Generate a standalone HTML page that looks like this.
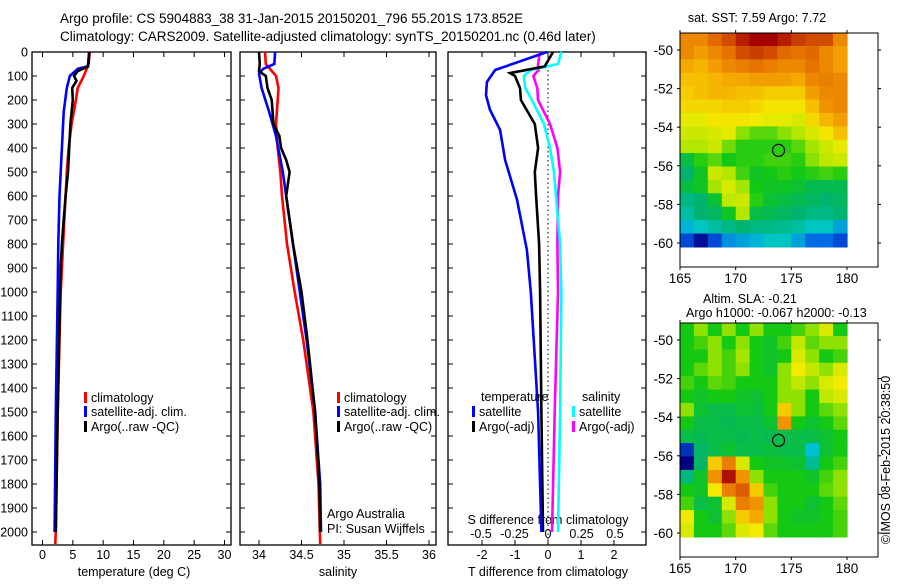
<!DOCTYPE html>
<html><head><meta charset="utf-8">
<style>
body{margin:0;background:#fff;width:900px;height:580px;overflow:hidden}
svg{font-family:"Liberation Sans",sans-serif;font-size:12.5px}
</style></head>
<body>
<svg id="c" width="900" height="580" viewBox="0 0 900 580">
<text x="60" y="23" font-size="13.5">Argo profile: CS 5904883_38 31-Jan-2015 20150201_796 55.201S 173.852E</text>
<text x="60" y="41" font-size="13.5">Climatology: CARS2009. Satellite-adjusted climatology: synTS_20150201.nc (0.46d later)</text>
</svg>
<script>
// ---------- data ----------
const depthTicks=[0,100,200,300,400,500,600,700,800,900,1000,1100,1200,1300,1400,1500,1600,1700,1800,1900,2000];
const tempTicks=[0,5,10,15,20,25,30];
const salTicks=[34,34.5,35,35.5,36];
const tdiffTicks=[-2,-1,0,1,2];
const sdiffTicks=[-0.5,-0.25,0,0.25,0.5];
const sdiffLabels=["-0.5","-0.25","0","0.25","0.5"];

const tClimDepth=[0,50,100,150,200,300,400,500,600,700,800,1000,1200,1500,2000,2050];
const tClimVal=[7.8,7.6,6.8,5.8,5.5,4.8,4.3,4.0,3.8,3.6,3.4,3.0,2.8,2.5,2.2,2.1];
const tSatDepth=[0,60,70,100,150,250,400,500,600,800,1000,1500,2000];
const tSatVal=[7.7,7.5,5.8,4.5,4.0,3.5,3.2,3.0,2.8,2.6,2.5,2.2,2.0];
const tArgoDepth=[0,60,80,100,120,150,200,300,400,500,600,700,800,900,1000,1500,2000];
const tArgoVal=[7.7,7.5,5.8,5.2,5.6,4.9,5.0,4.6,4.4,4.2,3.8,3.5,3.2,3.0,2.9,2.5,2.2];

const sClimDepth=[0,50,100,150,200,300,400,500,600,800,1000,1200,1500,1800,2050];
const sClimVal=[34.07,34.08,34.2,34.23,34.22,34.2,34.22,34.25,34.27,34.33,34.42,34.52,34.64,34.7,34.72];
const sSatDepth=[0,50,70,90,150,250,350,500,600,800,1000,1200,1500,1800,2000];
const sSatVal=[34.19,34.18,34.05,34.0,34.03,34.12,34.2,34.28,34.32,34.4,34.48,34.56,34.66,34.72,34.73];
const sArgoDepth=[0,50,80,100,150,200,300,350,400,450,500,550,600,700,800,1000,1200,1500,1800,2000];
const sArgoVal=[34.0,34.01,34.0,34.08,34.1,34.15,34.17,34.24,34.26,34.32,34.36,34.34,34.32,34.36,34.4,34.5,34.57,34.66,34.71,34.72];

const dTSatDepth=[0,75,125,180,240,325,450,615,825,1000,1500,2000];
const dTSatVal=[-0.03,-1.6,-1.85,-1.88,-1.76,-1.45,-1.3,-0.94,-0.64,-0.52,-0.3,-0.2];
const dTArgoDepth=[0,60,88,100,150,200,300,400,500,600,800,1000,1500,2000];
const dTArgoVal=[0.15,-0.1,-1.15,-1.0,-0.85,-0.82,-0.4,-0.3,-0.4,-0.36,-0.27,-0.24,-0.2,-0.15];
const dSSatDepth=[0,50,75,100,150,200,300,400,500,600,800,1000,1500,2000];
const dSSatVal=[0.1,0.075,-0.13,-0.18,-0.17,-0.12,-0.03,0.015,0.045,0.06,0.09,0.1,0.09,0.075];
const dSArgoDepth=[0,50,75,100,150,200,300,400,500,600,800,1000,1500,2000];
const dSArgoVal=[-0.06,-0.075,-0.07,-0.11,-0.08,-0.075,0.015,0.07,0.09,0.075,0.07,0.075,0.05,0.03];

const lonTicks=[165,170,175,180];
const latTicks=[-50,-52,-54,-56,-58,-60];
const sstGrid=[
[9,9,9.3,9.5,9.8,10,10,9.8,9.6,9.5,9.5,9],
[9,8.8,9,9.2,9.5,9.6,9.5,9.3,9.2,9.3,9,8.8],
[8.7,8.6,8.8,9,9.1,9.2,9.1,9,9,9.2,9,8.8],
[8.5,8.5,8.6,8.7,8.7,8.8,8.8,8.8,8.7,9,9.1,9],
[8.4,8.5,8.6,8.6,8.5,8.5,8.4,8.4,8.4,8.8,9,9],
[8.3,8.3,8.3,8.4,8.4,8.3,8.2,8.2,8.2,8.5,8.9,9],
[8.0,8.0,8.2,8.2,8.2,8.1,8.0,8.0,7.9,8.3,8.6,8.8],
[7.8,7.8,7.9,8.0,7.4,7.2,7.2,7.4,7.6,7.9,8.2,8.5],
[7.6,7.6,7.8,7.3,7.0,7.0,7.0,7.0,7.2,7.5,7.8,8.0],
[6.6,7.0,7.2,6.9,7.0,7.0,7.1,7.1,7.0,7.4,7.7,7.8],
[6.3,6.8,7.8,7.6,7.1,6.8,6.9,7.0,6.9,7.0,7.1,7.0],
[6.6,6.8,7.5,7.9,7.5,6.9,6.8,6.8,6.7,6.5,6.5,6.5],
[6.2,6.3,6.7,7.7,7.8,7.0,6.7,6.6,6.5,6.4,6.3,6.4],
[6.0,6.3,6.4,6.8,7.6,6.6,6.5,6.4,6.3,6.2,6.2,6.3],
[5.6,5.8,6.0,6.2,6.3,6.2,6.2,6.1,6.0,5.8,5.8,5.5],
[5.0,4.6,5.0,5.4,5.5,5.6,5.8,5.8,5.5,5.2,5.2,5.0]];
const slaGrid=[
[0,0.05,0,0.05,0,0.05,0,0,0.02,0.05,0.1,0],
[0,0.02,0.05,0,0.05,0,-0.02,0.02,0.08,0.03,0.05,0.05],
[0,0,0.05,0.02,0.06,0,-0.02,0,0.1,0.05,0,0.02],
[0,0.03,0.05,0.02,0.05,0,-0.02,0.05,0.12,0.08,0.05,0.1],
[0.02,0,0.03,0.02,0,0,0,0.05,0.08,0.05,0.1,0.12],
[0,-0.02,0,0,-0.02,-0.03,0,0.05,0.05,0,0.08,0.1],
[0.05,-0.03,-0.05,-0.05,-0.03,-0.04,0,0.15,0.05,0,0.03,0.05],
[0,-0.05,-0.05,-0.06,-0.05,-0.05,-0.03,0.2,0,-0.03,0,0.03],
[-0.05,-0.06,-0.05,-0.05,-0.06,-0.05,-0.06,-0.05,-0.05,-0.05,-0.03,0],
[-0.3,-0.08,-0.05,-0.03,-0.05,-0.05,-0.04,-0.05,-0.05,-0.18,-0.03,0],
[-0.35,-0.08,0.15,0.22,0.1,0,-0.02,-0.02,-0.03,-0.12,0,0.02],
[-0.1,-0.02,0.2,0.3,0.2,0.05,0,0,0,-0.02,0.02,0.05],
[0,-0.02,0.12,0.22,0.25,0.15,0.02,0,0,0,0.03,0.05],
[0.02,-0.05,-0.03,0.1,0.22,0.2,0.05,0,0,-0.03,0,0.03],
[0.12,0,-0.03,0.05,0.15,0.18,0.05,0,-0.02,-0.02,0,0.02],
[0.1,0,0,0.03,0.1,0.12,0.03,0,0,0,0,0.02]];
const argoLon=173.85, argoLat=-55.2;

// ---------- helpers ----------
const svg=document.getElementById('c');
const NS='http://www.w3.org/2000/svg';
function mk(tag,attrs){const e=document.createElementNS(NS,tag);for(const k in attrs)e.setAttribute(k,attrs[k]);svg.appendChild(e);return e;}
function lin(d0,d1,p0,p1){return v=>p0+(v-d0)*(p1-p0)/(d1-d0);}
const yD=lin(0,2000,52,532);
const PT=52,PB=545;
function stepPath(depths,vals,xf){
  let d='';
  for(let i=0;i<depths.length;i++){
    const x=xf(vals[i]).toFixed(1),y=yD(depths[i]).toFixed(1);
    d+=(i?'L':'M')+x+','+y;
  }
  return d;
}
function frame(x0,x1,name){
  const r=mk('rect',{x:x0,y:PT,width:x1-x0,height:PB-PT,fill:'none',stroke:'#000','stroke-width':1.3});
  
  
  depthTicks.forEach(d=>{
    const t1=mk('line',{x1:x0,x2:x0+5,y1:yD(d),y2:yD(d),stroke:'#000'});
    
    
    const t2=mk('line',{x1:x1-5,x2:x1,y1:yD(d),y2:yD(d),stroke:'#000'});
    
    
  });
}
function xticks(vals,labels,xf,name,labelY){
  vals.forEach((v,i)=>{
    const a=mk('line',{x1:xf(v),x2:xf(v),y1:PT,y2:PT+5,stroke:'#000'});
    
    
    const b=mk('line',{x1:xf(v),x2:xf(v),y1:PB-5,y2:PB,stroke:'#000'});
    
    
    const t=mk('text',{x:xf(v),y:labelY,'text-anchor':'middle'});
    t.textContent=labels[i];
    
    
  });
}
function line(depths,vals,xf,color,name){
  const p=mk('path',{d:stepPath(depths,vals,xf),fill:'none',stroke:color,'stroke-width':2.6,'stroke-linejoin':'miter'});
  
  
}
function txt(x,y,s,name,extra){
  const t=mk('text',Object.assign({x:x,y:y},extra||{}));
  t.textContent=s;
  
  
  return t;
}
function legendEntry(x,y,color,label,name){
  const b=mk('rect',{x:x,y:y-10,width:3,height:11,fill:color});
  
  
  txt(x+7,y,label,name);
}

// ---------- panel 1: temperature ----------
const xT=lin(0,30,42.5,224.5);
frame(32,231,'temperature-panel');
depthTicks.forEach(d=>txt(28,yD(d)+4.5,String(d),'depth-tick-label',{'text-anchor':'end'}));
xticks(tempTicks,tempTicks.map(String),xT,'temperature-x',559);
txt(134,576,'temperature (deg C)','temperature-axis-title',{'text-anchor':'middle'});
line(tClimDepth,tClimVal,xT,'#f00','temperature-climatology-line');
line(tSatDepth,tSatVal,xT,'#00f','temperature-satellite-line');
line(tArgoDepth,tArgoVal,xT,'#000','temperature-argo-line');
legendEntry(84,402,'#f00','climatology','legend-climatology');
legendEntry(84,416,'#00f','satellite-adj. clim.','legend-satellite');
legendEntry(84,431,'#000','Argo(..raw -QC)','legend-argo');

// ---------- panel 2: salinity ----------
const xS=lin(34,36,259,429);
frame(240,436,'salinity-panel');
xticks(salTicks,salTicks.map(String),xS,'salinity-x',559);
txt(338,576,'salinity','salinity-axis-title',{'text-anchor':'middle'});
line(sClimDepth,sClimVal,xS,'#f00','salinity-climatology-line');
line(sSatDepth,sSatVal,xS,'#00f','salinity-satellite-line');
line(sArgoDepth,sArgoVal,xS,'#000','salinity-argo-line');
legendEntry(337,402,'#f00','climatology','legend-climatology-2');
legendEntry(337,416,'#00f','satellite-adj. clim.','legend-satellite-2');
legendEntry(337,431,'#000','Argo(..raw -QC)','legend-argo-2');
txt(327,518,'Argo Australia','credit-argo-australia');
txt(327,533,'PI: Susan Wijffels','credit-pi');

// ---------- panel 3: differences ----------
const xdT=lin(0,1,548,581);
const xdS=lin(0,0.5,548,615);
frame(448,646,'difference-panel');
xticks(tdiffTicks,tdiffTicks.map(String),xdT,'tdiff-x',559);
sdiffTicks.forEach((v,i)=>txt(xdS(v),538,sdiffLabels[i],'sdiff-tick-label',{'text-anchor':'middle'}));
txt(548,524,'S difference from climatology','sdiff-axis-title',{'text-anchor':'middle'});
txt(548,576,'T difference from climatology','tdiff-axis-title',{'text-anchor':'middle'});
const zl=mk('line',{x1:548,x2:548,y1:PT,y2:PB,stroke:'#000','stroke-dasharray':'1.5,3'});


line(dSArgoDepth,dSArgoVal,xdS,'#f0f','sdiff-argo-line');
line(dSSatDepth,dSSatVal,xdS,'#0ff','sdiff-satellite-line');
line(dTArgoDepth,dTArgoVal,xdT,'#000','tdiff-argo-line');
line(dTSatDepth,dTSatVal,xdT,'#00f','tdiff-satellite-line');
txt(481,401,'temperature','legend-temperature-heading');
legendEntry(472,416,'#00f','satellite','legend-tdiff-satellite');
legendEntry(472,431,'#000','Argo(-adj)','legend-tdiff-argo');
txt(582,401,'salinity','legend-salinity-heading');
legendEntry(572,416,'#0ff','satellite','legend-sdiff-satellite');
legendEntry(572,431,'#f0f','Argo(-adj)','legend-sdiff-argo');

// ---------- maps ----------
const stops=[[0,[0,0,130]],[0.11,[0,90,230]],[0.22,[0,200,210]],[0.33,[0,180,110]],[0.44,[20,200,20]],[0.55,[170,230,0]],[0.66,[245,235,0]],[0.77,[245,165,0]],[0.88,[225,100,0]],[1,[165,0,0]]];
function cmap(t){
  t=Math.max(0,Math.min(1,t));
  for(let i=1;i<stops.length;i++){
    if(t<=stops[i][0]){
      const a=stops[i-1],b=stops[i],f=(t-a[0])/(b[0]-a[0]);
      const c=a[1].map((v,k)=>Math.round(v+(b[1][k]-v)*f));
      return 'rgb('+c.join(',')+')';
    }
  }
  return 'rgb(165,0,0)';
}
function drawMap(top,grid,norm,name){
  const xL=lin(165,180,680,847);
  const yL=lin(-50,-60,top+17,top+210);
  const box=mk('rect',{x:680,y:top,width:198,height:234,fill:'#fff',stroke:'#000','stroke-width':1});
  
  
  const rows=grid.length,cols=grid[0].length;
  const latTop=-49.1,latBot=-60.2,dLat=(latBot-latTop)/rows,dLon=15/cols;
  for(let r=0;r<rows;r++)for(let c=0;c<cols;c++){
    const x0=xL(165+c*dLon),x1=xL(165+(c+1)*dLon),y0=yL(latTop+r*dLat),y1=yL(latTop+(r+1)*dLat);
    const cell=mk('rect',{x:x0.toFixed(1),y:y0.toFixed(1),width:(x1-x0+0.6).toFixed(1),height:(y1-y0+0.6).toFixed(1),fill:cmap(norm(grid[r][c]))});
    
    
  }
  const b2=mk('rect',{x:680,y:top,width:198,height:234,fill:'none',stroke:'#000','stroke-width':1});
  
  
  lonTicks.forEach(v=>{
    const a=mk('line',{x1:xL(v),x2:xL(v),y1:top-3,y2:top,stroke:'#000'});
    
    
    const b=mk('line',{x1:xL(v),x2:xL(v),y1:top+234,y2:top+237,stroke:'#000'});
    
    
    txt(xL(v),top+250,String(v),name+'-lon-label',{'text-anchor':'middle','font-size':'13.5'});
  });
  latTicks.forEach(v=>{
    const a=mk('line',{x1:677,x2:680,y1:yL(v),y2:yL(v),stroke:'#000'});
    
    
    const b=mk('line',{x1:878,x2:881,y1:yL(v),y2:yL(v),stroke:'#000'});
    
    
    txt(673,yL(v)+5,String(v),name+'-lat-label',{'text-anchor':'end','font-size':'13.5'});
  });
  const circ=mk('circle',{cx:xL(argoLon),cy:yL(argoLat),r:6,fill:'none',stroke:'#000','stroke-width':1.2});
  
  
}
drawMap(33,sstGrid,v=>(v-4.5)/5.5,'sst-map');
drawMap(323,slaGrid,v=>v>=0?0.44+v*1.8:0.44+v*1.26,'sla-map');
txt(757,22,'sat. SST: 7.59 Argo: 7.72','sst-map-title',{'text-anchor':'middle'});
txt(703,303,'Altim. SLA: -0.21','sla-map-title');
txt(686,317,'Argo h1000: -0.067 h2000: -0.13','sla-map-subtitle');
txt(0,0,'©IMOS 08-Feb-2015 20:38:50','timestamp',{transform:'translate(890,460) rotate(-90)','text-anchor':'middle'});
</script>
</body></html>
